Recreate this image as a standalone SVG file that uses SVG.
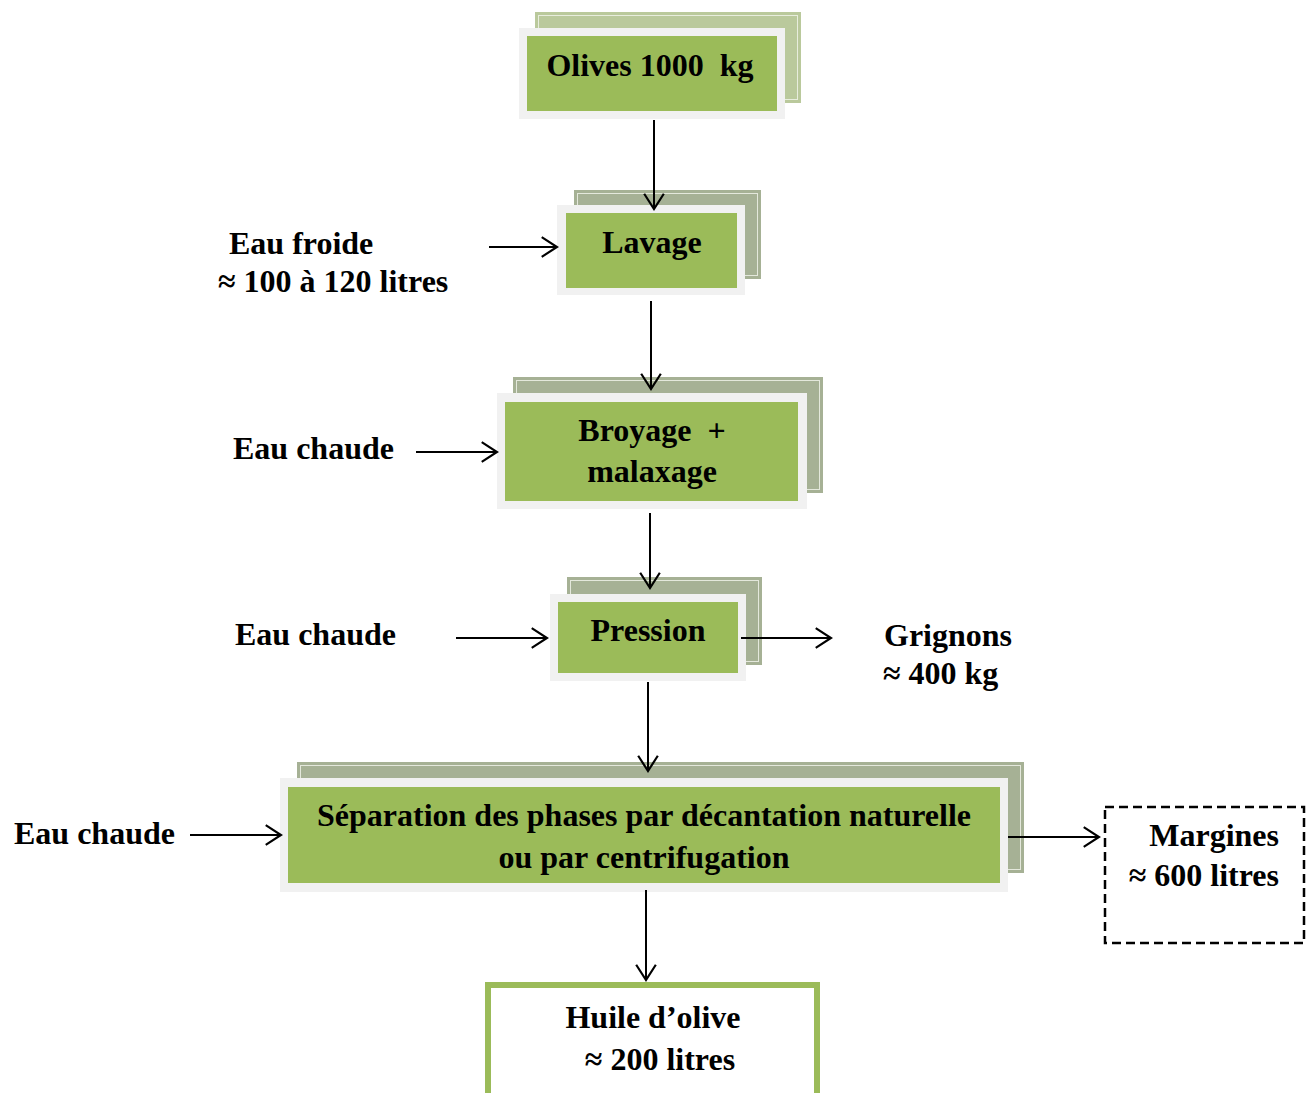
<svg xmlns="http://www.w3.org/2000/svg" width="1314" height="1093" viewBox="0 0 1314 1093">
  <style>
    .back { fill: #a6b195; }
    .inner { fill: none; stroke: #f4f6ee; stroke-width: 1; opacity: 0.8; }
    .frame { fill: #f1f1f1; }
    .face { fill: #9bbb59; }
    .t { font-family: "Liberation Serif", "Times New Roman", serif; font-weight: bold; font-size: 32px; fill: #000; white-space: pre; }
    .c { text-anchor: middle; }
    .conn line { stroke: #000; stroke-width: 2; }
  </style>
  <defs>
    <marker id="arr" markerUnits="userSpaceOnUse" markerWidth="20" markerHeight="24" viewBox="-16 -11 18 22" refX="0" refY="0" orient="auto">
      <path d="M-14,-9 L0,0 L-14,9" fill="none" stroke="#000" stroke-width="2"/>
    </marker>
  </defs>
  <rect width="1314" height="1093" fill="#fff"/>

  <!-- process steps -->
  <g id="olives">
    <rect class="back" style="fill:#bac99c" x="535" y="12" width="266" height="91"/>
    <rect class="inner" x="538.5" y="15.5" width="259" height="84"/>
    <rect class="frame" x="519" y="28" width="266" height="91"/>
    <rect class="face" x="527" y="36" width="250" height="75"/>
    <text class="t c" x="650" y="76" xml:space="preserve">Olives 1000  kg</text>
  </g>

  <g id="lavage">
    <rect class="back" x="574" y="190" width="187" height="89"/>
    <rect class="inner" x="577.5" y="193.5" width="180" height="82"/>
    <rect class="frame" x="557" y="205" width="188" height="90"/>
    <rect class="face" x="566" y="213" width="171" height="75"/>
    <text class="t c" x="652" y="253">Lavage</text>
  </g>

  <g id="broyage">
    <rect class="back" x="513" y="377" width="310" height="116"/>
    <rect class="inner" x="516.5" y="380.5" width="303" height="109"/>
    <rect class="frame" x="497" y="393" width="310" height="116"/>
    <rect class="face" x="505" y="402" width="293" height="99"/>
    <text class="t c" x="652" y="441" xml:space="preserve">Broyage  +</text>
    <text class="t c" x="652" y="482">malaxage</text>
  </g>

  <g id="pression">
    <rect class="back" x="567" y="577" width="195" height="88"/>
    <rect class="inner" x="570.5" y="580.5" width="188" height="81"/>
    <rect class="frame" x="550" y="594" width="196" height="87"/>
    <rect class="face" x="558" y="602" width="180" height="71"/>
    <text class="t c" x="648" y="641">Pression</text>
  </g>

  <g id="separation">
    <rect class="back" x="297" y="762" width="727" height="111"/>
    <rect class="inner" x="300.5" y="765.5" width="720" height="104"/>
    <rect class="frame" x="280" y="778" width="728" height="114"/>
    <rect class="face" x="288" y="787" width="712" height="96"/>
    <text class="t c" x="644" y="826">Séparation des phases par décantation naturelle</text>
    <text class="t c" x="644" y="868">ou par centrifugation</text>
  </g>

  <g id="huile">
    <rect x="488" y="985" width="329" height="120" fill="#fff" stroke="#9bbb59" stroke-width="6"/>
    <text class="t c" x="653" y="1028">Huile d’olive</text>
    <text class="t c" x="660" y="1070">≈ 200 litres</text>
  </g>

  <g id="margines">
    <rect x="1105" y="807" width="199" height="136" fill="#fff" stroke="#000" stroke-width="2.5" stroke-dasharray="9,5"/>
    <text class="t" x="1279" y="846" text-anchor="end">Margines</text>
    <text class="t" x="1279" y="886" text-anchor="end">≈ 600 litres</text>
  </g>

  <!-- inputs and outputs -->
  <g id="eau-froide">
    <text class="t" x="229" y="254">Eau froide</text>
    <text class="t" x="218" y="292">≈ 100 à 120 litres</text>
  </g>
  <g id="eau-chaude-1">
    <text class="t" x="233" y="459">Eau chaude</text>
  </g>
  <g id="eau-chaude-2">
    <text class="t" x="235" y="645">Eau chaude</text>
  </g>
  <g id="eau-chaude-3">
    <text class="t" x="14" y="844">Eau chaude</text>
  </g>
  <g id="grignons">
    <text class="t" x="884" y="646">Grignons</text>
    <text class="t" x="883" y="684">≈ 400 kg</text>
  </g>

  <!-- connectors -->
  <g class="conn" id="connectors">
    <line x1="654" y1="120" x2="654" y2="209" marker-end="url(#arr)"/>
    <line x1="651" y1="301" x2="651" y2="389" marker-end="url(#arr)"/>
    <line x1="650" y1="513" x2="650" y2="588" marker-end="url(#arr)"/>
    <line x1="648" y1="682" x2="648" y2="771" marker-end="url(#arr)"/>
    <line x1="646" y1="890" x2="646" y2="980" marker-end="url(#arr)"/>
    <line x1="489" y1="247" x2="557" y2="247" marker-end="url(#arr)"/>
    <line x1="416" y1="452" x2="497" y2="452" marker-end="url(#arr)"/>
    <line x1="456" y1="638" x2="547" y2="638" marker-end="url(#arr)"/>
    <line x1="741" y1="638" x2="831" y2="638" marker-end="url(#arr)"/>
    <line x1="190" y1="835" x2="281" y2="835" marker-end="url(#arr)"/>
    <line x1="1008" y1="837" x2="1099" y2="837" marker-end="url(#arr)"/>
  </g>
</svg>
